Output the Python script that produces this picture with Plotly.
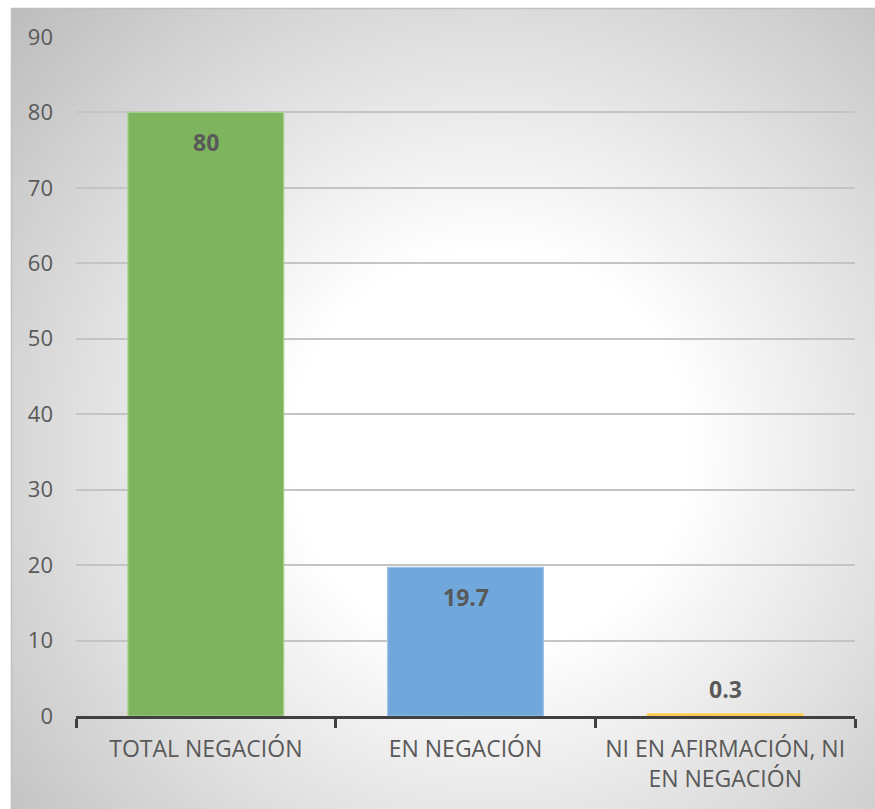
import base64
import plotly.graph_objects as go

# Chart data
categories = ["TOTAL NEGACIÓN", "EN NEGACIÓN", "NI EN AFIRMACIÓN, NI<br>EN NEGACIÓN"]
values = [80, 19.7, 0.3]
bar_colors = ["#7fb45f", "#70a8db", "#f5c242"]
edge_colors = ["#a9d18e", "#9dc3e6", "#ffd966"]
y_ticks = [0, 10, 20, 30, 40, 50, 60, 70, 80, 90]

# Figure geometry (pixels)
W, H = 875, 809
ML, MR, MT, MB = 76, 20, 37, 93
PW, PH = W - ML - MR, H - MT - MB

# Radial-gradient chart frame, drawn as an SVG backdrop image
svg = f"""<svg xmlns='http://www.w3.org/2000/svg' width='{W}' height='{H}' viewBox='0 0 {W} {H}'>
<defs>
<radialGradient id='g' gradientUnits='userSpaceOnUse' cx='490' cy='450' r='660'>
<stop offset='0' stop-color='#ffffff'/>
<stop offset='0.3' stop-color='#ffffff'/>
<stop offset='1' stop-color='#bbbbbb'/>
</radialGradient>
</defs>
<rect x='0' y='0' width='{W}' height='{H}' fill='#ffffff'/>
<rect x='11.5' y='8.5' width='{W}' height='{H}' fill='url(#g)' stroke='#c0c0c0' stroke-width='1.5'/>
</svg>"""
bg_uri = "data:image/svg+xml;base64," + base64.b64encode(svg.encode("utf-8")).decode("ascii")

fig = go.Figure()
fig.add_trace(go.Bar(
    x=categories,
    y=values,
    width=0.6,
    marker=dict(color=bar_colors, line=dict(color=edge_colors, width=1.2)),
    hoverinfo="skip",
))

# Value labels: inside near the top for tall bars, above for the tiny one
for cat, val in zip(categories, values):
    inside = val > 5
    fig.add_annotation(
        x=cat, y=val, xref="x", yref="y",
        text=f"<b>{val:g}</b>",
        showarrow=False,
        yanchor="middle",
        yshift=-30 if inside else 25,
        font=dict(family="Open Sans", size=23, color="#595959"),
    )

fig.add_layout_image(
    source=bg_uri,
    xref="paper", yref="paper",
    x=-ML / PW, y=1 + MT / PH,
    sizex=W / PW, sizey=H / PH,
    xanchor="left", yanchor="top",
    sizing="stretch",
    layer="below",
)

fig.update_layout(
    width=W, height=H,
    margin=dict(l=ML, r=MR, t=MT, b=MB),
    paper_bgcolor="#ffffff",
    plot_bgcolor="rgba(0,0,0,0)",
    showlegend=False,
    bargap=0.4,
    font=dict(family="Open Sans", color="#595959"),
)
fig.update_yaxes(
    range=[0, 90],
    tickvals=y_ticks,
    showgrid=True,
    gridcolor="#c4c4c4",
    gridwidth=1.5,
    zeroline=False,
    showline=False,
    ticks="",
    ticklabelstandoff=22,
    tickfont=dict(family="Open Sans", size=22, color="#595959"),
)
fig.update_xaxes(
    showline=True,
    linecolor="#404040",
    linewidth=3,
    ticks="outside",
    tickson="boundaries",
    ticklen=9,
    tickwidth=3,
    tickcolor="#404040",
    ticklabelstandoff=10,
    tickfont=dict(family="Open Sans", size=23, color="#595959"),
)

fig.write_html("out.html")
